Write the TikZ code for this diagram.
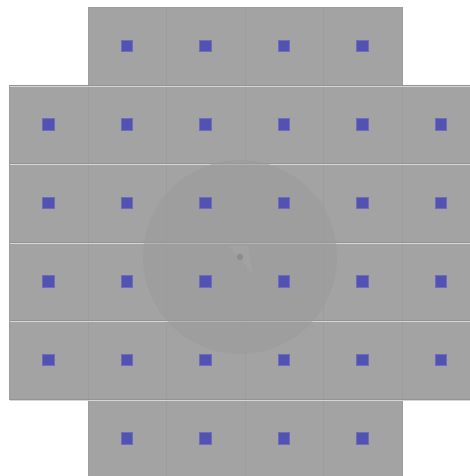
\documentclass[tikz,border=0pt]{standalone}
\begin{document}
\begin{tikzpicture}[x=1pt,y=-1pt,
  tile/.style={fill=tilegray,draw=seamgray,line width=0.4pt},
  bluemark/.style={fill=markblue,draw=markedge,line width=0.6pt,minimum size=11.5pt,inner sep=0pt,outer sep=0pt,rectangle},
]
\definecolor{tilegray}{HTML}{A3A3A3}
\definecolor{seamgray}{HTML}{9D9D9D}
\definecolor{markblue}{HTML}{5252B2}
\definecolor{markedge}{HTML}{6E6EBA}
\definecolor{circgray}{HTML}{9C9C9C}
\useasboundingbox (0,0) rectangle (470,476);
\begin{scope}
\clip (0,0) rectangle (470,476);
% tiles
\foreach \r/\cs/\ce in {0/1/4,1/0/5,2/0/5,3/0/5,4/0/5,5/1/4}{
  \foreach \c in {\cs,...,\ce}{
    \path[tile] ({9.5+78.5*\c},{7+78.5*\r}) rectangle ++(78.5,78.5);
  }
}
% seams
\foreach \r in {1,...,5}{
  \draw[color=white!55!tilegray,line width=0.7pt] (9.5,{7+78.5*\r+0.5}) -- (480,{7+78.5*\r+0.5});
  \draw[color=black!10!tilegray,line width=0.7pt] (9.5,{7+78.5*\r-0.3}) -- (480,{7+78.5*\r-0.3});
}
% circle
\fill[circgray,opacity=0.6] (240,257) circle (97);
\fill[white,opacity=0.05] (229,246) -- (248,246) -- (252,273) -- cycle;
\fill[black!45] (240,257) circle (3.2);
% markers
\foreach \r/\cs/\ce in {0/1/4,1/0/5,2/0/5,3/0/5,4/0/5,5/1/4}{
  \foreach \c in {\cs,...,\ce}{
    \node[bluemark] (m\r\c) at ({9.5+78.5*\c+39},{7+78.5*\r+39}) {};
  }
}
\end{scope}
\end{tikzpicture}
\end{document}
